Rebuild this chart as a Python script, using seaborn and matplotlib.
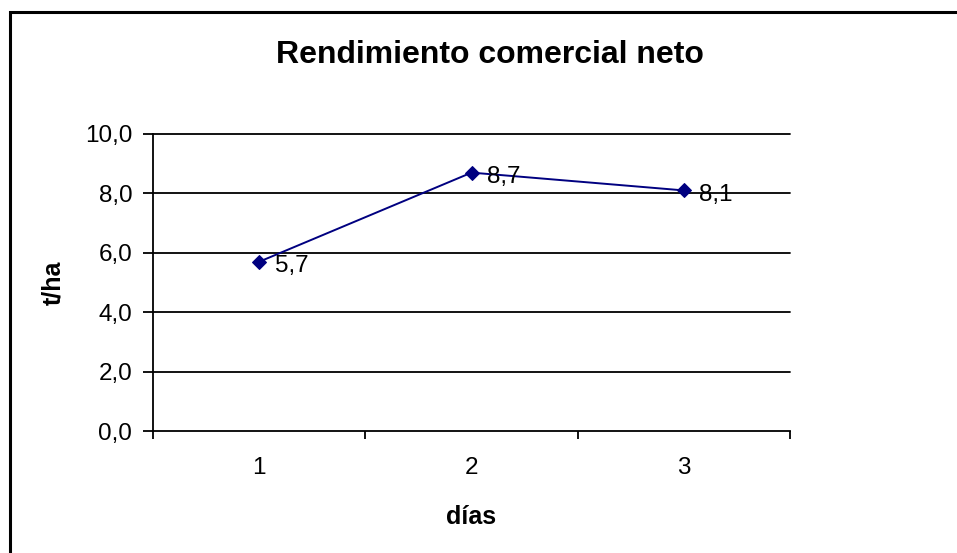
import pandas as pd
import seaborn as sns
import matplotlib.pyplot as plt
from matplotlib.patches import Rectangle

dias = [1, 2, 3]
rendimiento = [5.7, 8.7, 8.1]
etiquetas = ["5,7", "8,7", "8,1"]
yticks = [0, 2, 4, 6, 8, 10]

df = pd.DataFrame({"dias": dias, "rend": rendimiento})

sns.set_style("white")
plt.rcParams['font.family'] = ['Liberation Sans', 'DejaVu Sans']
plt.rcParams.update({"text.color": "black", "axes.labelcolor": "black",
                     "xtick.color": "black", "ytick.color": "black"})

fig = plt.figure(figsize=(9.57, 5.53), dpi=100)
ax = fig.add_axes([0.160, 0.2206, 0.6655, 0.5371])

# chart frame (only top/left edges visible in the original)
fig.patches.append(Rectangle((10 / 957, -0.1), 1.2, 1.1 - 12 / 553,
                             transform=fig.transFigure, fill=False,
                             edgecolor='black', linewidth=2.2, zorder=0))

sns.lineplot(data=df, x="dias", y="rend", ax=ax, color="#000080",
             marker="D", markersize=7.5, markeredgecolor="#000080",
             linewidth=1.4, zorder=3)

for x, y, t in zip(dias, rendimiento, etiquetas):
    ax.annotate(t, (x, y), xytext=(11, -3), textcoords="offset points",
                ha="left", va="center", fontsize=17.5, color="black")

ax.set_xlim(0.5, 3.5)
ax.set_ylim(0, 10)
ax.set_yticks(yticks)
ax.set_yticklabels([f"{v:.1f}".replace(".", ",") for v in yticks], fontsize=17.5)
for v in yticks[1:]:
    ax.axhline(v, color="black", linewidth=1.3, zorder=1, clip_on=False)

ax.set_xticks([0.5, 1.5, 2.5, 3.5])
ax.set_xticklabels([])
ax.set_xticks(dias, minor=True)
ax.set_xticklabels([str(d) for d in dias], minor=True, fontsize=17.5)
ax.tick_params(axis="x", which="minor", length=0, pad=19)
ax.tick_params(axis="x", which="major", direction="out", length=6, width=1.3)
ax.tick_params(axis="y", direction="out", length=7, width=1.3, pad=8)
ax.tick_params(left=True, bottom=True)

for s in ["top", "right"]:
    ax.spines[s].set_visible(False)
for s in ["left", "bottom"]:
    ax.spines[s].set_color("black")
    ax.spines[s].set_linewidth(1.3)

ax.set_xlabel("días", fontsize=18, fontweight="bold")
ax.set_ylabel("t/ha", fontsize=18, fontweight="bold")
ax.xaxis.set_label_coords(0.5, (431 - 517) / 297)
ax.yaxis.set_label_coords((53 - 153) / 637, 0.5)
ax.xaxis.label.set_va("center")
ax.yaxis.label.set_va("center")
fig.text(490 / 957, 1 - 63 / 553, "Rendimiento comercial neto", ha="center",
         va="baseline", fontsize=23, fontweight="bold")

fig.savefig("out.png", dpi=100, facecolor="white")
